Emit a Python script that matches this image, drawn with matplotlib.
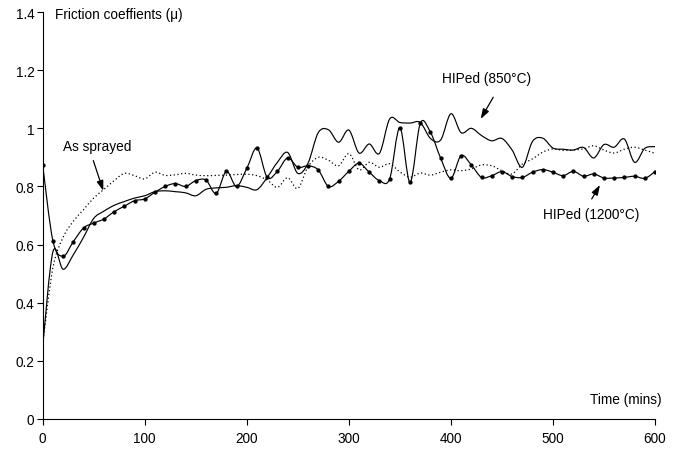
import numpy as np
import matplotlib
matplotlib.use('Agg')
import matplotlib.pyplot as plt
from matplotlib.path import Path
from matplotlib.patches import PathPatch

plt.rcParams['font.family'] = ['Liberation Sans', 'DejaVu Sans']

# time axis, one reading every 10 min
time = np.arange(0, 610, 10)

as_sprayed = [0.26, 0.52, 0.625, 0.68, 0.72, 0.76, 0.79, 0.82, 0.845, 0.837,
              0.826, 0.849, 0.838, 0.84, 0.845, 0.839, 0.837, 0.838, 0.839, 0.841,
              0.842, 0.837, 0.822, 0.797, 0.83, 0.793, 0.868, 0.9, 0.89, 0.871,
              0.913, 0.857, 0.883, 0.866, 0.878, 0.85, 0.832, 0.846, 0.839, 0.849,
              0.857, 0.854, 0.86, 0.874, 0.871, 0.854, 0.843, 0.877, 0.895, 0.918,
              0.929, 0.924, 0.926, 0.929, 0.94, 0.925, 0.915, 0.928, 0.935, 0.925,
              0.914]

hiped_850 = [0.25, 0.575, 0.515, 0.565, 0.625, 0.69, 0.715, 0.735, 0.748, 0.76,
             0.768, 0.782, 0.785, 0.782, 0.778, 0.768, 0.79, 0.795, 0.797, 0.803,
             0.797, 0.789, 0.831, 0.883, 0.917, 0.845, 0.88, 0.985, 0.995, 0.952,
             0.994, 0.915, 0.946, 0.914, 1.032, 1.02, 1.018, 1.02, 0.965, 0.96,
             1.05, 0.985, 1.0, 0.975, 0.957, 0.965, 0.925, 0.866, 0.955, 0.966,
             0.932, 0.928, 0.925, 0.934, 0.898, 0.944, 0.935, 0.963, 0.883, 0.931,
             0.937]

hiped_1200 = [0.874, 0.613, 0.56, 0.61, 0.657, 0.674, 0.688, 0.713, 0.732, 0.751,
              0.757, 0.78, 0.80, 0.81, 0.80, 0.82, 0.822, 0.776, 0.852, 0.80,
              0.862, 0.932, 0.831, 0.852, 0.898, 0.866, 0.871, 0.857, 0.80, 0.818,
              0.852, 0.88, 0.849, 0.82, 0.826, 1.002, 0.814, 1.017, 0.986, 0.897,
              0.828, 0.906, 0.874, 0.831, 0.837, 0.851, 0.834, 0.831, 0.849, 0.858,
              0.849, 0.837, 0.852, 0.835, 0.843, 0.829, 0.829, 0.831, 0.835, 0.828,
              0.851]

xticks = [0, 100, 200, 300, 400, 500, 600]
yticks = [0, 0.2, 0.4, 0.6, 0.8, 1.0, 1.2, 1.4]
ylabels = ['0', '0.2', '0.4', '0.6', '0.8', '1', '1.2', '1.4']


def smooth_path(x, y):
    # Catmull-Rom curve through the points, written as cubic Bezier segments
    p = np.column_stack([x, y]).astype(float)
    p = np.vstack([p[0], p, p[-1]])
    verts = [p[1]]
    codes = [Path.MOVETO]
    for i in range(1, len(p) - 2):
        c1 = p[i] + (p[i + 1] - p[i - 1]) / 6.0
        c2 = p[i + 1] - (p[i + 2] - p[i]) / 6.0
        verts += [c1, c2, p[i + 1]]
        codes += [Path.CURVE4] * 3
    return Path(verts, codes)


fig = plt.figure(figsize=(6.83, 4.52), dpi=100)
ax = fig.add_axes([0.0625, 0.0708, 0.8965, 0.9004])

ax.add_patch(PathPatch(smooth_path(time, as_sprayed), fill=False, color='k',
                       lw=0.9, linestyle=(0, (1, 2))))
ax.add_patch(PathPatch(smooth_path(time, hiped_850), fill=False, color='k', lw=0.85))
ax.add_patch(PathPatch(smooth_path(time, hiped_1200), fill=False, color='k', lw=0.85))
ax.plot(time, hiped_1200, linestyle='none', marker='o', markersize=2.1, color='k')

ax.set_xlim(0, 600)
ax.set_ylim(0, 1.4)
ax.set_xticks(xticks)
ax.set_xticklabels([str(t) for t in xticks])
ax.set_yticks(yticks)
ax.set_yticklabels(ylabels)
ax.tick_params(axis='both', direction='out', length=4, width=0.8, labelsize=9.8)
ax.tick_params(axis='y', pad=2)
ax.tick_params(axis='x', pad=5)
ax.spines['top'].set_visible(False)
ax.spines['right'].set_visible(False)
ax.spines['left'].set_linewidth(0.8)
ax.spines['bottom'].set_linewidth(0.8)

# axis titles sit inside the plot area
ax.text(12, 1.393, 'Friction coeffients (\u03bc)', fontsize=9.8, ha='left', va='center')
ax.text(536, 0.069, 'Time (mins)', fontsize=9.8, ha='left', va='center')

# series labels with arrows
arrow = dict(arrowstyle='-|>,head_length=0.6,head_width=0.2', color='k', lw=0.9,
             mutation_scale=10, shrinkA=0, shrinkB=0)
ax.text(20, 0.939, 'As sprayed', fontsize=9.8, ha='left', va='center')
ax.annotate('', xy=(59.4, 0.785), xytext=(49.6, 0.889), arrowprops=arrow)
ax.text(391, 1.173, 'HIPed (850\u00b0C)', fontsize=9.8, ha='left', va='center')
ax.annotate('', xy=(429.2, 1.032), xytext=(441.5, 1.107), arrowprops=arrow)
ax.text(490, 0.705, 'HIPed (1200\u00b0C)', fontsize=9.8, ha='left', va='center')
ax.annotate('', xy=(546.1, 0.805), xytext=(538, 0.757), arrowprops=arrow)

plt.savefig('out.png', dpi=100)
